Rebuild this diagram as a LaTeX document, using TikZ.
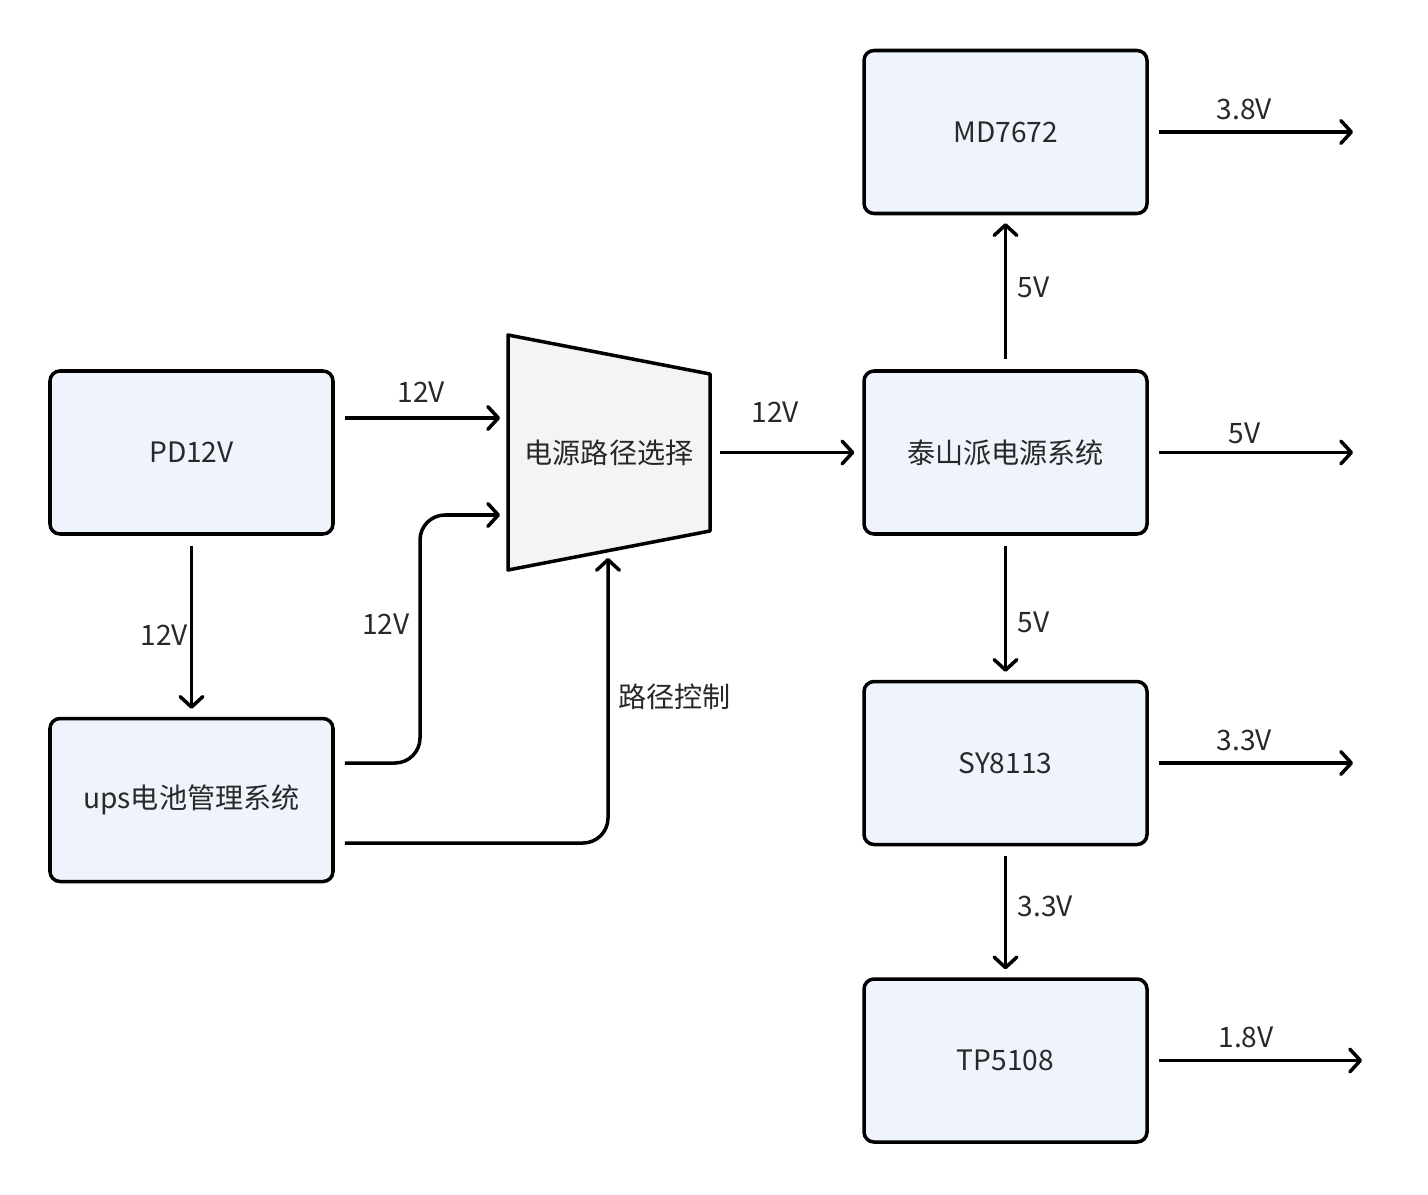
\documentclass[tikz,border=0pt]{standalone}
\usepackage{fontspec}
\setmainfont{Noto Sans CJK SC}
\usepackage{tikz}
\usepackage{xcolor}
\usetikzlibrary{arrows.meta,calc}
\tikzset{%
	block/.style={rectangle, rounded corners=0.2cm, draw=black, fill=PaleBlue,
		line width=2pt, minimum width=5.66cm, minimum height=3.26cm,
		text centered, text=InkGray},
	wire/.style={->, line width=2pt, rounded corners=0.5cm,
		shorten >=4.5pt, shorten <=5.7pt},
	tag/.style={text=InkGray, inner sep=1pt},
}
\definecolor{PaleBlue}{RGB}{238,243,252}
\definecolor{PaleGray}{RGB}{244,244,244}
\definecolor{InkGray}{RGB}{40,40,40}

\begin{document}
\begin{tikzpicture}[
    >={Straight Barb[length=6pt,width=13pt,round]},
    font=\fontsize{16}{19}\selectfont]

    \useasboundingbox (0,0) rectangle (28.56,-23.88);

    \node [block] (PD) at (3.83,-9.05) {PD12V};
    \node [block] (UPS) [below of = PD, node distance=6.95cm] {ups电池管理系统};

    % path selector
    \coordinate [right of = PD, node distance=8.35cm] (SelC);
    \draw [line width=2pt, fill=PaleGray, line join=round]
        ($(SelC)+(-2.02,2.35)$) -- ($(SelC)+(2.02,1.57)$) --
        ($(SelC)+(2.02,-1.57)$) -- ($(SelC)+(-2.02,-2.35)$) -- cycle;
    \node [text=InkGray] (Sel) at (SelC) {电源路径选择};
    \coordinate (SelIn1) at ($(SelC)+(-2.02,0.69)$);
    \coordinate (SelIn2) at ($(SelC)+(-2.02,-1.25)$);
    \coordinate (SelCtl) at ($(SelC)+(-0.02,-1.95)$);
    \coordinate (SelOut) at ($(SelC)+(2.02,0)$);

    \node [block] (TS) [right of = SelC, node distance=7.93cm] {泰山派电源系统};
    \node [block] (MD) [above of = TS, node distance=6.41cm] {MD7672};
    \node [block] (SY) [below of = TS, node distance=6.21cm] {SY8113};
    \node [block] (TP) [below of = SY, node distance=5.95cm] {TP5108};

    \coordinate [right of = MD, node distance=7.11cm] (MDOut);
    \coordinate [right of = TS, node distance=7.11cm] (TSOut);
    \coordinate [right of = SY, node distance=7.11cm] (SYOut);
    \coordinate [right of = TP, node distance=7.29cm] (TPOut);

    \draw [wire] ([yshift=0.69cm]PD.east) -- node[tag, midway, above=7pt] {12V} (SelIn1);
    \draw [wire] ([yshift=0.74cm]UPS.east) -| node[tag, pos=0.78, left=4pt] {12V}
        ($(SelIn2)+(-1.76,0)$) -- (SelIn2);
    \draw [wire] ([yshift=-0.86cm]UPS.east) -| node[tag, pos=0.75, right=4pt] {路径控制} (SelCtl);
    \draw [wire] (PD) -- node[tag, pos=0.55, left=0pt] {12V} (UPS);
    \draw [wire] (SelOut) -- node[tag, pos=0.43, above=15pt] {12V} (TS);

    \draw [wire] (TS) -- node[tag, pos=0.53, right=5pt] {5V} (MD);
    \draw [wire] (TS) -- node[tag, pos=0.6, right=5pt] {5V} (SY);
    \draw [wire] (SY) -- node[tag, pos=0.46, right=5pt] {3.3V} (TP);

    \draw [wire] (MD.east) -- node[tag, pos=0.45, above=5pt] {3.8V} (MDOut);
    \draw [wire] (TS.east) -- node[tag, pos=0.45, above=3pt] {5V} (TSOut);
    \draw [wire] (SY.east) -- node[tag, pos=0.45, above=5pt] {3.3V} (SYOut);
    \draw [wire] (TP.east) -- node[tag, pos=0.44, above=5pt] {1.8V} (TPOut);

\end{tikzpicture}
\end{document}
